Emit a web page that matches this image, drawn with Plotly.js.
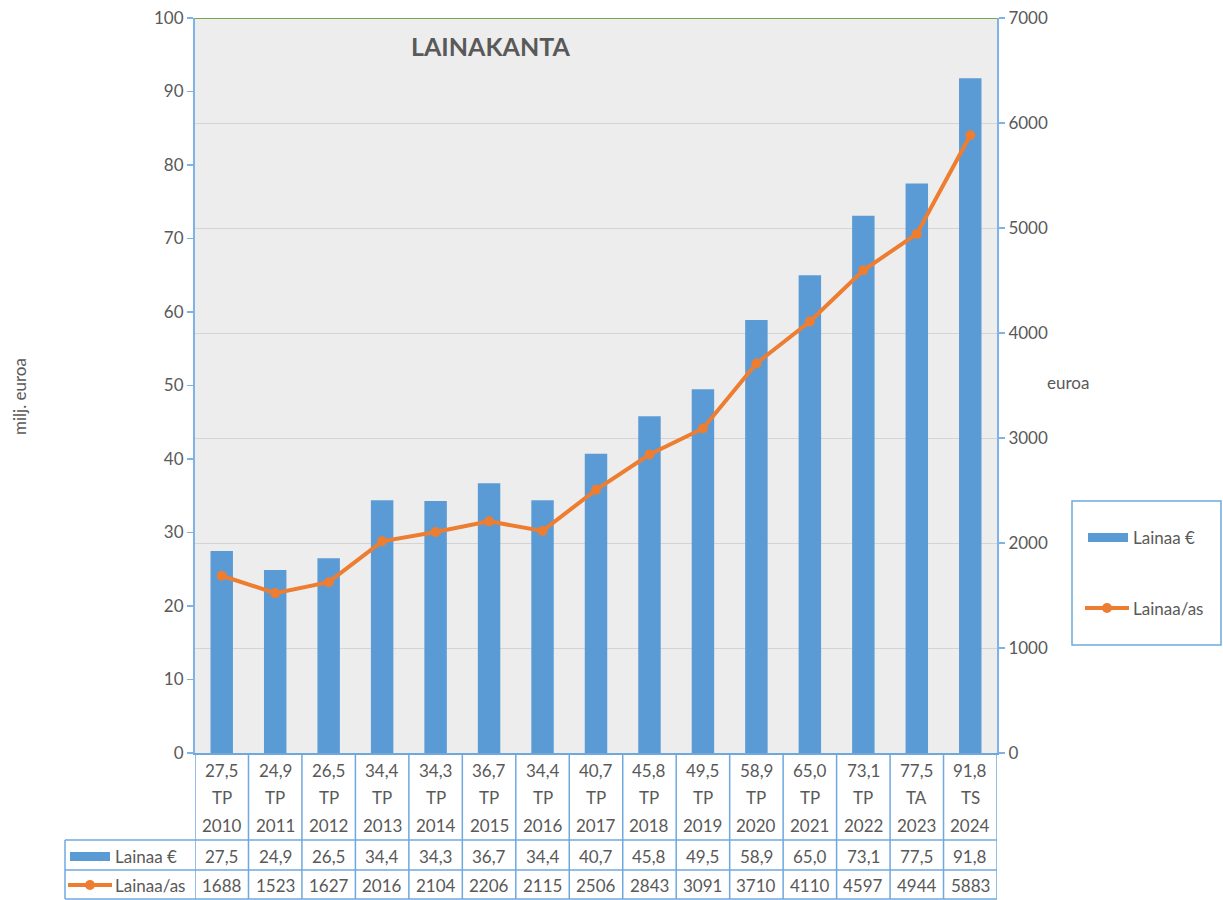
<!DOCTYPE html>
<html>
<head>
<meta charset="utf-8">
<script src="https://cdn.plot.ly/plotly-3.0.1.min.js"></script>
<style>
  body { margin: 0; background: #fff; }
  #chart { width: 1223px; height: 900px; }
</style>
</head>
<body>
<div id="chart"></div>
<script>
// values
const years = ['2010','2011','2012','2013','2014','2015','2016','2017','2018','2019','2020','2021','2022','2023','2024'];
const status = ['TP','TP','TP','TP','TP','TP','TP','TP','TP','TP','TP','TP','TP','TA','TS'];
const lainaa = [27.5, 24.9, 26.5, 34.4, 34.3, 36.7, 34.4, 40.7, 45.8, 49.5, 58.9, 65.0, 73.1, 77.5, 91.8];
const lainaaAs = [1688, 1523, 1627, 2016, 2104, 2206, 2115, 2506, 2843, 3091, 3710, 4110, 4597, 4944, 5883];

const barColor = '#5b9bd5';
const lineColor = '#ed7d31';
const textColor = '#595959';
const tableColor = '#6fa8dc';
const fontFam = 'Lato, "Open Sans", sans-serif';

// plot area in pixels: left 195, right 997, top 18, bottom 753
const W = 1223, H = 900, L = 195, R = 997, T = 18, B = 753;
const px = x => (x - L) / (R - L);
const py = y => (B - y) / (B - T);

const fmt = v => v.toFixed(1).replace('.', ',');
const cats = years.map((y, i) => status[i] + ' ' + y);

const traces = [
  {
    type: 'bar', name: 'Lainaa €', x: cats, y: lainaa,
    marker: { color: barColor }, width: 0.42, showlegend: false,
    hoverinfo: 'y'
  },
  {
    type: 'scatter', mode: 'lines+markers', name: 'Lainaa/as', x: cats, y: lainaaAs, yaxis: 'y2',
    line: { color: lineColor, width: 4 }, marker: { color: lineColor, size: 10 },
    showlegend: false, hoverinfo: 'y'
  }
];

const shapes = [];
const annotations = [];
const note = (o) => annotations.push(Object.assign({ showarrow: false, yanchor: 'middle', xanchor: 'center' }, o));

// green top border at 100
shapes.push({ type: 'line', xref: 'paper', yref: 'y', x0: 0, x1: 1, y0: 100, y1: 100, line: { color: '#70ad47', width: 2 } });

// data table grid
const rowTops = [py(840), py(870), py(899)];
for (let i = 0; i <= years.length; i++) {
  shapes.push({ type: 'line', xref: 'x', yref: 'paper', x0: i - 0.5, x1: i - 0.5, y0: 0, y1: py(899), line: { color: tableColor, width: 1.5 } });
}
rowTops.forEach(y => {
  shapes.push({ type: 'line', xref: 'paper', yref: 'paper', x0: px(65), x1: 1, y0: y, y1: y, line: { color: tableColor, width: 1.5 } });
});
shapes.push({ type: 'line', xref: 'paper', yref: 'paper', x0: px(65), x1: px(65), y0: py(840), y1: py(899), line: { color: tableColor, width: 1.5 } });

// table keys
shapes.push({ type: 'rect', xref: 'paper', yref: 'paper', x0: px(70), x1: px(110), y0: py(852), y1: py(861), fillcolor: barColor, line: { width: 0 } });
shapes.push({ type: 'line', xref: 'paper', yref: 'paper', x0: px(68), x1: px(112), y0: py(885), y1: py(885), line: { color: lineColor, width: 4 } });
shapes.push({ type: 'circle', xref: 'paper', yref: 'paper', x0: px(85), x1: px(95), y0: py(880), y1: py(890), fillcolor: lineColor, line: { width: 0 } });

const tfont = { family: fontFam, size: 17, color: textColor };
cats.forEach((c, i) => {
  note({ xref: 'x', yref: 'paper', x: c, y: py(770), text: fmt(lainaa[i]), font: tfont });
  note({ xref: 'x', yref: 'paper', x: c, y: py(797), text: status[i], font: tfont });
  note({ xref: 'x', yref: 'paper', x: c, y: py(825), text: years[i], font: tfont });
  note({ xref: 'x', yref: 'paper', x: c, y: py(856), text: fmt(lainaa[i]), font: tfont });
  note({ xref: 'x', yref: 'paper', x: c, y: py(885), text: String(lainaaAs[i]), font: tfont });
});
note({ xref: 'paper', yref: 'paper', x: px(113), y: py(856), xanchor: 'left', text: 'Lainaa €', font: tfont });
note({ xref: 'paper', yref: 'paper', x: px(113), y: py(885), xanchor: 'left', text: 'Lainaa/as', font: tfont });

// legend box
shapes.push({ type: 'rect', xref: 'paper', yref: 'paper', x0: px(1072), x1: px(1221), y0: py(645), y1: py(501), line: { color: tableColor, width: 1.5 } });
shapes.push({ type: 'rect', xref: 'paper', yref: 'paper', x0: px(1088), x1: px(1128), y0: py(533), y1: py(542), fillcolor: barColor, line: { width: 0 } });
shapes.push({ type: 'line', xref: 'paper', yref: 'paper', x0: px(1085), x1: px(1129), y0: py(608), y1: py(608), line: { color: lineColor, width: 4 } });
shapes.push({ type: 'circle', xref: 'paper', yref: 'paper', x0: px(1102), x1: px(1112), y0: py(603), y1: py(613), fillcolor: lineColor, line: { width: 0 } });
note({ xref: 'paper', yref: 'paper', x: px(1131), y: py(537), xanchor: 'left', text: 'Lainaa €', font: tfont });
note({ xref: 'paper', yref: 'paper', x: px(1131), y: py(608), xanchor: 'left', text: 'Lainaa/as', font: tfont });

// titles
note({ xref: 'paper', yref: 'paper', x: px(490), y: py(46), text: '<b>LAINAKANTA</b>', font: { family: fontFam, size: 25, color: textColor } });
note({ xref: 'paper', yref: 'paper', x: px(19), y: py(397), text: 'milj. euroa', textangle: -90, font: { family: fontFam, size: 17, color: textColor } });
note({ xref: 'paper', yref: 'paper', x: px(1045), y: py(382), xanchor: 'left', text: 'euroa', font: { family: fontFam, size: 17, color: textColor } });

const layout = {
  width: W, height: H,
  margin: { l: L, r: W - R, t: T, b: H - B },
  paper_bgcolor: '#ffffff',
  plot_bgcolor: '#ededed',
  font: { family: fontFam, size: 17, color: textColor },
  showlegend: false,
  xaxis: {
    type: 'category', range: [-0.5, years.length - 0.5],
    showticklabels: false, ticks: '', showgrid: false,
    showline: true, linecolor: tableColor, linewidth: 1.5, zeroline: false
  },
  yaxis: {
    range: [0, 100], dtick: 10, showgrid: false, zeroline: false,
    showline: true, linecolor: '#7fb2e5', linewidth: 2,
    ticks: 'outside', ticklen: 6, tickcolor: '#7fb2e5', tickwidth: 1.5,
    tickfont: { family: fontFam, size: 17, color: textColor }
  },
  yaxis2: {
    overlaying: 'y', side: 'right', range: [0, 7000], dtick: 1000,
    showgrid: true, gridcolor: '#d4d4d4', gridwidth: 1, zeroline: false,
    showline: true, linecolor: '#7fb2e5', linewidth: 2,
    ticks: 'outside', ticklen: 6, tickcolor: '#7fb2e5', tickwidth: 1.5,
    tickfont: { family: fontFam, size: 17, color: textColor }
  },
  shapes: shapes,
  annotations: annotations
};

Plotly.newPlot('chart', traces, layout, { displayModeBar: false, staticPlot: true });
</script>
</body>
</html>
